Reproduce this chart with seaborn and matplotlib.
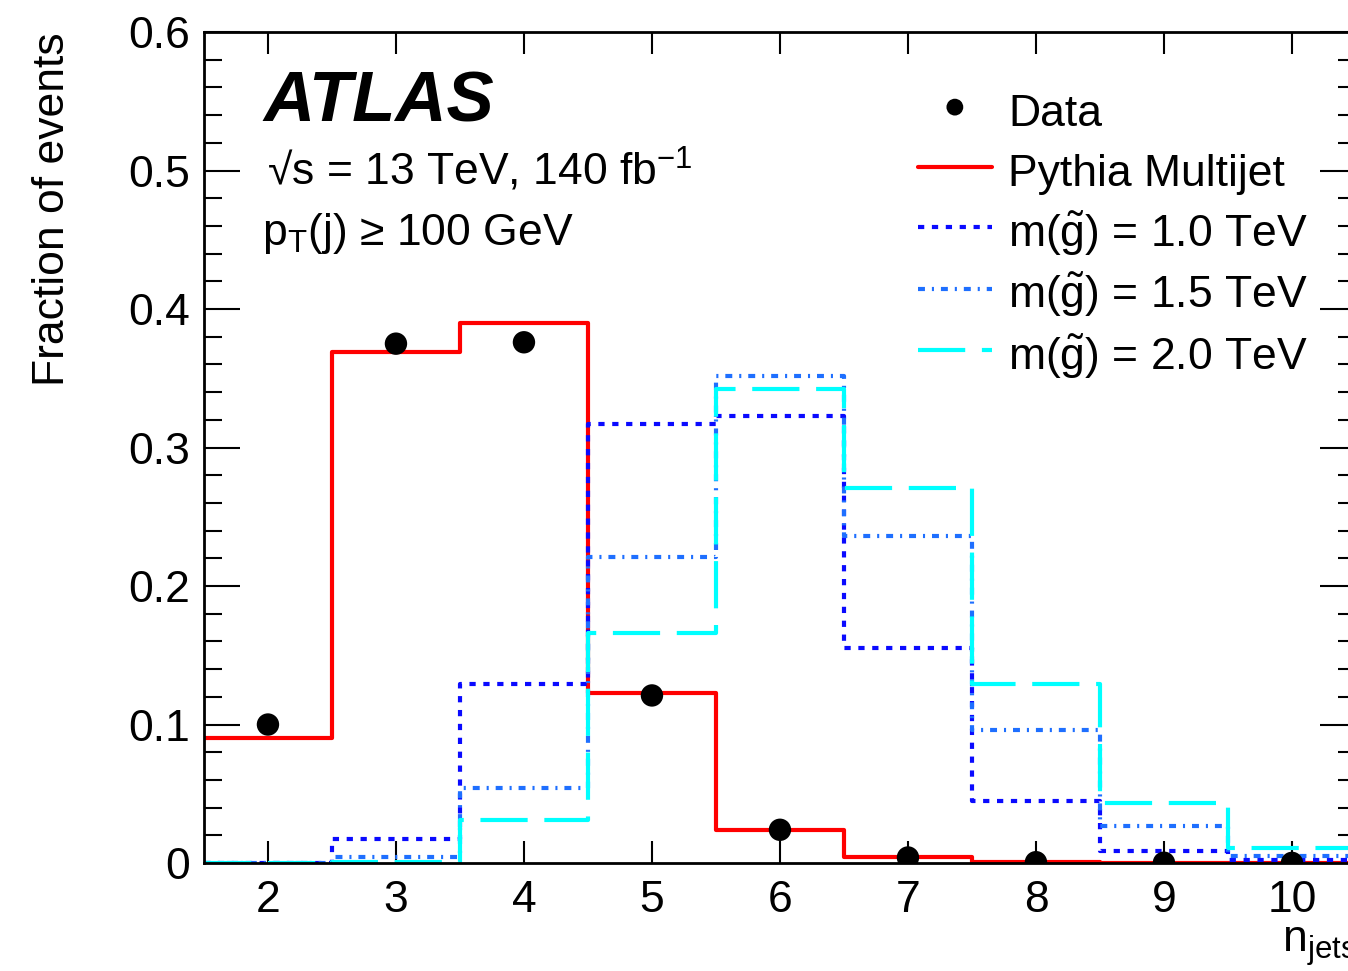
import numpy as np
import pandas as pd
import matplotlib
matplotlib.use("Agg")
import matplotlib.pyplot as plt
import seaborn as sns

# --- Daten ---
n_jets = [2, 3, 4, 5, 6, 7, 8, 9, 10]
bin_edges = [1.5, 2.5, 3.5, 4.5, 5.5, 6.5, 7.5, 8.5, 9.5, 10.5]
data_frac = [0.100, 0.375, 0.376, 0.121, 0.024, 0.004, 0.0006, 0.0002, 0.0001]
pythia = [0.090, 0.369, 0.390, 0.123, 0.024, 0.004, 0.001, 0.0003, 0.0001]
gluino_10 = [0.0, 0.017, 0.129, 0.317, 0.323, 0.155, 0.045, 0.009, 0.002]
gluino_15 = [0.0, 0.004, 0.054, 0.221, 0.352, 0.236, 0.096, 0.027, 0.005]
gluino_20 = [0.0, 0.001, 0.031, 0.166, 0.342, 0.271, 0.129, 0.043, 0.011]

labels = ["Data", "Pythia Multijet",
          r"m($\tilde{\mathrm{g}}$) = 1.0 TeV",
          r"m($\tilde{\mathrm{g}}$) = 1.5 TeV",
          r"m($\tilde{\mathrm{g}}$) = 2.0 TeV"]

df = pd.DataFrame({"n_jets": n_jets, "data": data_frac, "pythia": pythia,
                   "g10": gluino_10, "g15": gluino_15, "g20": gluino_20})

sns.set_theme(style="ticks")
plt.rcParams['font.family'] = ['Liberation Sans', 'DejaVu Sans']
plt.rcParams['mathtext.fontset'] = 'custom'
plt.rcParams['mathtext.rm'] = 'Liberation Sans'
plt.rcParams['mathtext.it'] = 'Liberation Sans:italic'
plt.rcParams['mathtext.bf'] = 'Liberation Sans:bold'
plt.rcParams['lines.scale_dashes'] = False
plt.rcParams['text.color'] = 'black'
plt.rcParams['axes.labelcolor'] = 'black'
plt.rcParams['xtick.color'] = 'black'
plt.rcParams['ytick.color'] = 'black'

fs = 32

fig = plt.figure(figsize=(13.48, 9.71), dpi=100)
ax = fig.add_axes([0.1513, 0.1112, 0.8546, 0.8558])

styles = [
    ("pythia", labels[1], "#ff0000", None),
    ("g10", labels[2], "#0a0aff", (4.5, 5.5)),
    ("g15", labels[3], "#1e6fff", (5, 5, 1.5, 5)),
    ("g20", labels[4], "#00ffff", (34, 12)),
]
for col, lab, colr, dash in styles:
    kw = dict(linewidth=3)
    if dash is not None:
        kw["dashes"] = dash
    sns.histplot(data=df, x="n_jets", weights=col, bins=bin_edges,
                 element="step", fill=False, color=colr, label=lab, ax=ax, **kw)

sns.scatterplot(data=df, x="n_jets", y="data", color="black", s=260,
                edgecolor="none", label=labels[0], zorder=10, ax=ax)

ax.set_xlim(1.5, 10.5)
ax.set_ylim(0, 0.6)
ax.set_xticks(n_jets)
ax.set_xticklabels([str(n) for n in n_jets])
ax.set_yticks([0, 0.1, 0.2, 0.3, 0.4, 0.5, 0.6])
ax.set_yticklabels(["0", "0.1", "0.2", "0.3", "0.4", "0.5", "0.6"])
ax.set_yticks(np.arange(0, 0.6, 0.02), minor=True)

ax.tick_params(axis="both", which="both", direction="in", top=True, right=True,
               width=1.5, color="black", labelsize=fs, labelcolor="black")
ax.tick_params(axis="y", which="major", length=26, pad=10)
ax.tick_params(axis="y", which="minor", length=13)
ax.tick_params(axis="x", which="major", length=16, pad=12)
ax.tick_params(axis="x", which="minor", bottom=False, top=False)
for sp in ax.spines.values():
    sp.set_linewidth(2)
    sp.set_color("black")

ax.set_ylabel("Fraction of events", fontsize=fs, loc="top")
ax.yaxis.set_label_coords(-0.114, 1.0)
ax.set_xlabel(r"n$_{\mathrm{jets}}$", fontsize=fs, loc="right")
ax.xaxis.set_label_coords(1.0, -0.075)
ax.xaxis.label.set_va("top")

ax.text(0.052, 0.892, "ATLAS", transform=ax.transAxes, fontsize=51,
        fontweight="bold", fontstyle="italic", va="baseline")
ax.text(0.055, 0.816, "√s = 13 TeV, 140 fb$^{-1}$",
        transform=ax.transAxes, fontsize=fs, va="baseline")
ax.text(0.050, 0.744, r"p$_{\mathrm{T}}$(j) ≥ 100 GeV",
        transform=ax.transAxes, fontsize=fs, va="baseline")

handles, labs = ax.get_legend_handles_labels()
order = [labs.index(l) for l in labels]
ax.legend([handles[i] for i in order], [labs[i] for i in order],
          loc="upper left", bbox_to_anchor=(0.620, 0.935), frameon=False,
          fontsize=fs, handlelength=1.65, handletextpad=0.38,
          handleheight=1.35, labelspacing=0.24, borderpad=0,
          borderaxespad=0, markerscale=0.75)

fig.savefig("out.png", dpi=100)
